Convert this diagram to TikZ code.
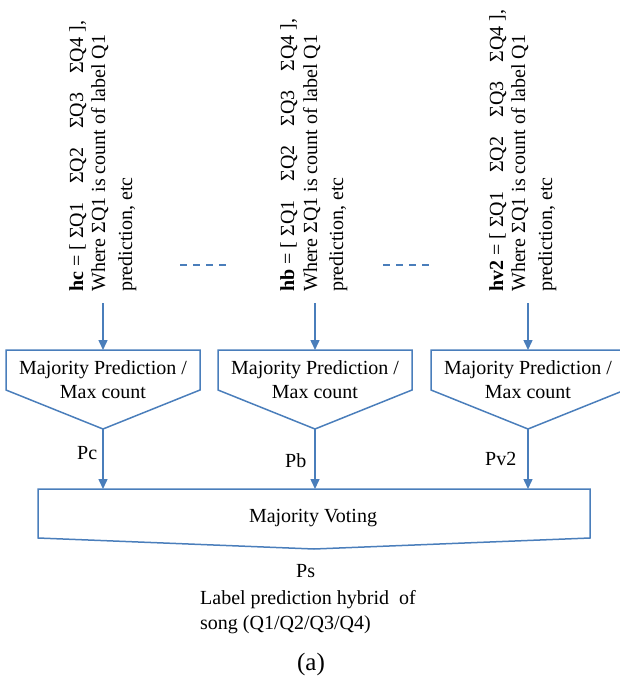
\documentclass[tikz,border=0pt]{standalone}
\usepackage{fontspec}
\setmainfont{Liberation Serif}
\usetikzlibrary{arrows.meta}
\definecolor{lineblue}{RGB}{74,126,187}
\begin{document}
\begin{tikzpicture}[x=1pt,y=-1pt,
  every node/.style={font=\fontsize{20}{24}\selectfont, inner sep=0pt, text=black},
  conn/.style={draw=lineblue, line width=1.5pt, -{Triangle[length=10pt,width=9pt]}},
  shapeline/.style={draw=lineblue, line width=1.5pt, line join=miter},
  dotline/.style={draw=lineblue, line width=1.5pt, dash pattern=on 7pt off 6pt},
  vtext/.style={rotate=90, anchor=base west}]
\useasboundingbox (0,0) rectangle (620,680);
\clip (0,0) rectangle (620,680);

% rotated input descriptions
\node[vtext] (h1a) at (83,292) {\textbf{hc} = [ ΣQ1\hspace{19pt}ΣQ2\hspace{19pt}ΣQ3\hspace{19pt}ΣQ4 ],};
\node[vtext] (h1b) at (105,292) {Where ΣQ1 is count of label Q1};
\node[vtext] (h1c) at (132,292) {prediction, etc};

\node[vtext] (h2a) at (294,292) {\textbf{hb} = [ ΣQ1\hspace{19pt}ΣQ2\hspace{19pt}ΣQ3\hspace{19pt}ΣQ4 ],};
\node[vtext] (h2b) at (317,292) {Where ΣQ1 is count of label Q1};
\node[vtext] (h2c) at (343,292) {prediction, etc};

\node[vtext] (h3a) at (503,292) {\textbf{hv2} = [ ΣQ1\hspace{19pt}ΣQ2\hspace{19pt}ΣQ3\hspace{19pt}ΣQ4 ],};
\node[vtext] (h3b) at (525,292) {Where ΣQ1 is count of label Q1};
\node[vtext] (h3c) at (552,292) {prediction, etc};

% dashed separators
\coordinate (d1s) at (180,265); \coordinate (d1e) at (228,265);
\coordinate (d2s) at (383,265); \coordinate (d2e) at (430,265);
\draw[dotline] (d1s) -- (d1e);
\draw[dotline] (d2s) -- (d2e);

% pentagons
\foreach \cx/\n in {103/1,315/2,528/3}{
  \draw[shapeline] ({\cx-97},350) -- ({\cx+97},350) -- ({\cx+97},390) -- (\cx,429) -- ({\cx-97},390) -- cycle;
  \coordinate (top\n) at (\cx,350);
  \coordinate (tip\n) at (\cx,429);
  \coordinate (in\n) at (\cx,303);
  \coordinate (vt\n) at (\cx,489);
  \node[anchor=base] (mp\n) at (\cx,374) {Majority Prediction /};
  \node[anchor=base] (mc\n) at (\cx,398) {Max count};
  \draw[conn] (in\n) -- (top\n);
  \draw[conn] (tip\n) -- (vt\n);
}

\node[anchor=base west] (pc) at (77,459) {Pc};
\node[anchor=base west] (pb) at (285,467) {Pb};
\node[anchor=base west] (pv) at (485,465) {Pv2};

% voting box
\draw[shapeline] (38,489) -- (590,489) -- (590,538) -- (314,549) -- (38,538) -- cycle;
\node[anchor=base] (mv) at (313,522) {Majority Voting};

\node[anchor=base west] (ps) at (296,577) {Ps};
\node[anchor=base west] (lp) at (200,604) {Label prediction hybrid\ \ of};
\node[anchor=base west] (sg) at (200,629) {song (Q1/Q2/Q3/Q4)};
\node[anchor=base, font=\fontsize{25}{30}\selectfont] (cap) at (311,670) {(a)};
\end{tikzpicture}
\end{document}
